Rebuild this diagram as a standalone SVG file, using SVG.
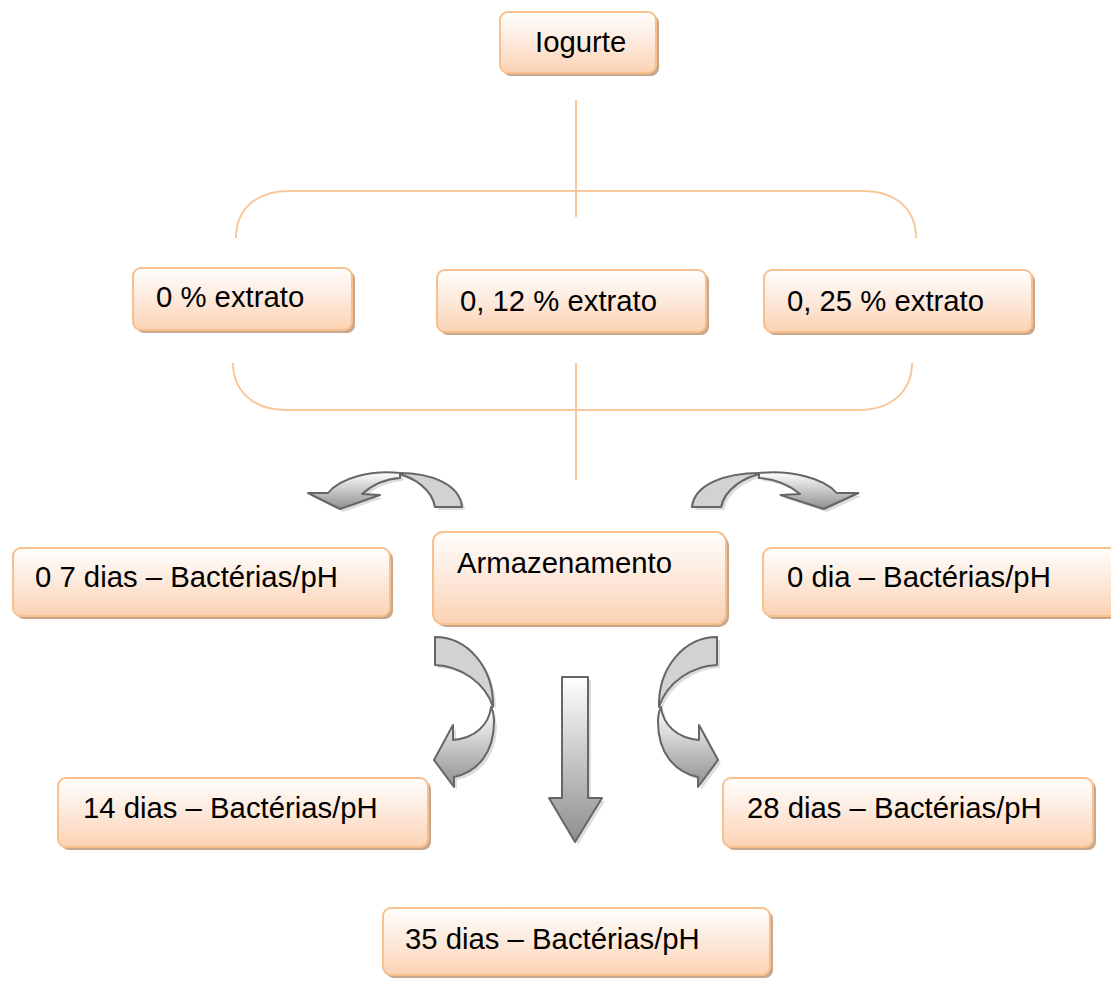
<svg xmlns="http://www.w3.org/2000/svg" width="1111" height="1003" viewBox="0 0 1111 1003">
<defs>
<linearGradient id="boxg" x1="0" y1="0" x2="0" y2="1">
<stop offset="0" stop-color="#fffefd"/>
<stop offset="0.5" stop-color="#fde9db"/>
<stop offset="1" stop-color="#fbd2b2"/>
</linearGradient>
<linearGradient id="arrg" x1="0" y1="0" x2="0" y2="1">
<stop offset="0" stop-color="#ffffff"/>
<stop offset="1" stop-color="#8e8e8e"/>
</linearGradient>
<linearGradient id="arrh" x1="1" y1="0" x2="0" y2="0.3">
<stop offset="0" stop-color="#e8e8e8"/>
<stop offset="1" stop-color="#8e8e8e"/>
</linearGradient>
<style>
.box{fill:url(#boxg);stroke:#f7c08e;stroke-width:2}
.sh{fill:#c9a78c}
.t{font-family:"Liberation Sans",Arial,sans-serif;font-size:29.3px;fill:#000}
.br{fill:none;stroke:#f8c79c;stroke-width:2}
.a1{fill:#d2d2d2;stroke:#666;stroke-width:2;stroke-linejoin:round}
.a2{fill:url(#arrg);stroke:#666;stroke-width:2;stroke-linejoin:round}
.as{fill:#c8c8c8;stroke:none}
</style>
</defs>

<g id="connectors">
<line class="br" x1="576" y1="100" x2="576" y2="217"/>
<path class="br" d="M236,238 C236,210 255,191 290,191 L862,191 C897,191 916,210 916,238"/>
<path class="br" d="M233,363 C233,390 252,410 287,410 L858,410 C893,410 912,390 912,363"/>
<line class="br" x1="576" y1="363" x2="576" y2="480"/>

<g id="arrow-top-left">
<g transform="translate(3,3)" opacity="0.6">
<path class="as" d="M462,507 C460,485 432,472 395,473 C415,477 432,490 435,507 Z"/>
<path class="as" d="M400,473 C370,470 340,478 328,493 L308,493 L340,509 L380,495 L362,494 C372,485 385,479 400,478 Z"/>
</g>
<path class="a1" d="M462,507 C460,485 432,472 395,473 C415,477 432,490 435,507 Z"/>
<path class="a2" d="M400,473 C370,470 340,478 328,493 L308,493 L340,509 L380,495 L362,494 C372,485 385,479 400,478 Z"/>
</g>

<g id="arrow-top-right" transform="matrix(-1.08 0 0 1 1190.96 0)">
<g transform="translate(-3,3)" opacity="0.6">
<path class="as" d="M462,507 C460,485 432,472 395,473 C415,477 432,490 435,507 Z"/>
<path class="as" d="M400,473 C370,470 340,478 328,493 L308,493 L340,509 L380,495 L362,494 C372,485 385,479 400,478 Z"/>
</g>
<path class="a1" d="M462,507 C460,485 432,472 395,473 C415,477 432,490 435,507 Z"/>
<path class="a2" d="M400,473 C370,470 340,478 328,493 L308,493 L340,509 L380,495 L362,494 C372,485 385,479 400,478 Z"/>
</g>

<g id="arrow-down-left">
<g transform="translate(3,3)" opacity="0.6">
<path class="as" d="M435,637 C468,637 494,668 493,707 C485,682 460,666 435,665 Z"/>
<path class="as" d="M491,707 C489,725 475,738 453,740 L453,725 L434,760 L454,787 L454,777 C478,772 494,752 494,722 Z"/>
</g>
<path class="a1" d="M435,637 C468,637 494,668 493,707 C485,682 460,666 435,665 Z"/>
<path class="a2" d="M491,707 C489,725 475,738 453,740 L453,725 L434,760 L454,787 L454,777 C478,772 494,752 494,722 C494,716 493,711 491,707 Z"/>
</g>

<g id="arrow-down-right" transform="matrix(-1 0 0 1 1152 0)">
<g transform="translate(-3,3)" opacity="0.6">
<path class="as" d="M435,637 C468,637 494,668 493,707 C485,682 460,666 435,665 Z"/>
<path class="as" d="M491,707 C489,725 475,738 453,740 L453,725 L434,760 L454,787 L454,777 C478,772 494,752 494,722 Z"/>
</g>
<path class="a1" d="M435,637 C468,637 494,668 493,707 C485,682 460,666 435,665 Z"/>
<path class="a2" d="M491,707 C489,725 475,738 453,740 L453,725 L434,760 L454,787 L454,777 C478,772 494,752 494,722 C494,716 493,711 491,707 Z"/>
</g>

<g id="arrow-down">
<path class="as" opacity="0.6" transform="translate(3,3)" d="M562,677 L588,677 L588,798 L602,798 L575,842 L549,798 L562,798 Z"/>
<path class="a2" d="M562,677 L588,677 L588,798 L602,798 L575,842 L549,798 L562,798 Z"/>
</g>
</g>

<g id="n-iogurte">
<rect class="sh" x="503" y="15" width="156" height="61" rx="8"/>
<rect class="box" x="500" y="12" width="156" height="61" rx="8"/>
<text class="t" x="535" y="52">Iogurte</text>
</g>

<g id="n-0ext">
<rect class="sh" x="136" y="271" width="219" height="62" rx="8"/>
<rect class="box" x="133" y="268" width="219" height="62" rx="8"/>
<text class="t" x="156" y="307">0 % extrato</text>
</g>

<g id="n-012ext">
<rect class="sh" x="440" y="273" width="269" height="62" rx="8"/>
<rect class="box" x="437" y="270" width="269" height="62" rx="8"/>
<text class="t" x="460" y="311">0, 12 % extrato</text>
</g>

<g id="n-025ext">
<rect class="sh" x="767" y="273" width="268" height="62" rx="8"/>
<rect class="box" x="764" y="270" width="268" height="62" rx="8"/>
<text class="t" x="787" y="311">0, 25 % extrato</text>
</g>

<g id="n-7dias">
<rect class="sh" x="16" y="551" width="377" height="68" rx="8"/>
<rect class="box" x="13" y="548" width="377" height="68" rx="8"/>
<text class="t" x="35" y="587">0 7 dias – Bactérias/pH</text>
</g>

<g id="n-armazenamento">
<rect class="sh" x="436" y="535" width="293" height="92" rx="10"/>
<rect class="box" x="433" y="532" width="293" height="92" rx="10"/>
<text class="t" x="457" y="573">Armazenamento</text>
</g>

<g id="n-0dia">
<rect class="sh" x="766" y="551" width="360" height="68" rx="8"/>
<rect class="box" x="763" y="548" width="360" height="68" rx="8"/>
<text class="t" x="787" y="587">0 dia – Bactérias/pH</text>
</g>

<g id="n-14dias">
<rect class="sh" x="61" y="781" width="370" height="69" rx="8"/>
<rect class="box" x="58" y="778" width="370" height="69" rx="8"/>
<text class="t" x="83" y="818">14 dias – Bactérias/pH</text>
</g>

<g id="n-28dias">
<rect class="sh" x="726" y="781" width="370" height="69" rx="8"/>
<rect class="box" x="723" y="778" width="370" height="69" rx="8"/>
<text class="t" x="747" y="818">28 dias – Bactérias/pH</text>
</g>

<g id="n-35dias">
<rect class="sh" x="386" y="911" width="387" height="67" rx="8"/>
<rect class="box" x="383" y="908" width="387" height="67" rx="8"/>
<text class="t" x="405" y="949">35 dias – Bactérias/pH</text>
</g>
</svg>
